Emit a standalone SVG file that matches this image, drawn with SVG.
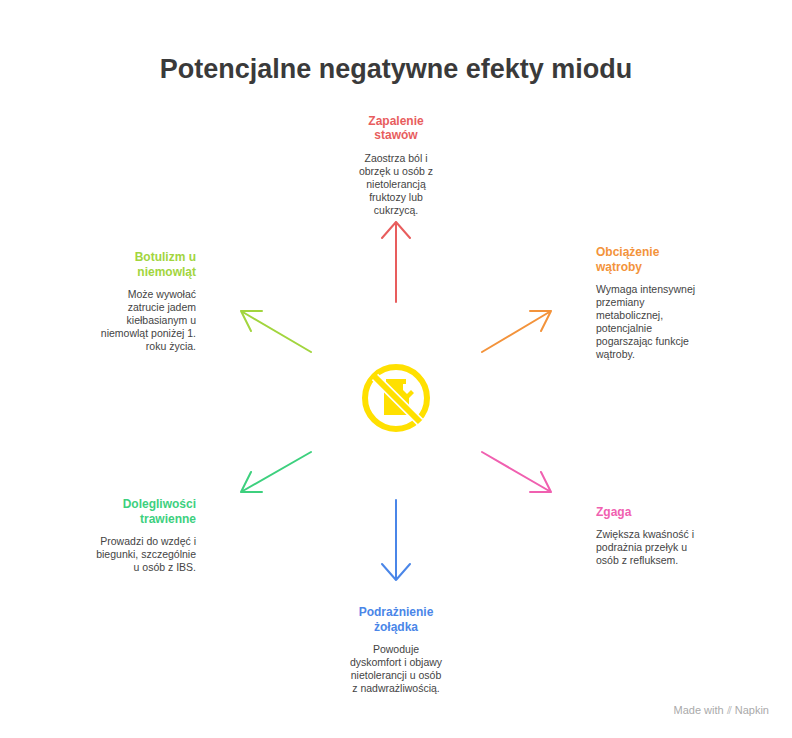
<svg xmlns="http://www.w3.org/2000/svg" width="792" height="738" viewBox="0 0 792 738">
<style>
text{font-family:"Liberation Sans",Arial,sans-serif}
.t{font-size:27px;font-weight:bold;fill:#3a3a3a}
.h{font-size:12px;font-weight:bold}
.b{font-size:10.5px;fill:#444}
.c{text-anchor:middle}.r{text-anchor:end}
.a{fill:none;stroke-width:2;stroke-linecap:round;stroke-linejoin:round}
</style>
<rect width="792" height="738" fill="#fff"/>
<text class="t c" x="396" y="78">Potencjalne negatywne efekty miodu</text>
<g id="connectors">
<g class="a" stroke="#e85d5d"><path d="M396 302V222M382 238L396 222L410 238"/></g>
<g class="a" stroke="#f3933b"><path d="M482 352L551 311M530 311L551 311L541 331"/></g>
<g class="a" stroke="#f060b0"><path d="M482 452L551 492M541 472L551 492L530 492"/></g>
<g class="a" stroke="#4a86e8"><path d="M396 500V580M382 564L396 580L410 564"/></g>
<g class="a" stroke="#3dd07e"><path d="M311 452L241 492M251 472L241 492L262 492"/></g>
<g class="a" stroke="#a2d53e"><path d="M311 352L241 311M262 311L241 311L251 331"/></g>
</g>
<g id="icon">
<circle cx="396" cy="398" r="31" fill="none" stroke="#ffe000" stroke-width="6"/>
<path d="M386 379h20v5h-3v6l4 4 4-4 3 3-5 5v17h-25v-26l2-5z" fill="#ffe000"/>
<path d="M375 377L420 422" stroke="#fff" stroke-width="9"/>
<path d="M373 375L420 422" stroke="#ffe000" stroke-width="6"/>
</g>
<g id="n1"><text class="h c" fill="#e85d5d" x="396" y="125">Zapalenie</text><text class="h c" fill="#e85d5d" x="396" y="139">stawów</text>
<text class="b c" x="396" y="162">Zaostrza ból i</text><text class="b c" x="396" y="175">obrzęk u osób z</text><text class="b c" x="396" y="188">nietolerancją</text><text class="b c" x="396" y="201">fruktozy lub</text><text class="b c" x="396" y="214">cukrzycą.</text></g>
<g id="n2"><text class="h" fill="#f3933b" x="596" y="256">Obciążenie</text><text class="h" fill="#f3933b" x="596" y="271">wątroby</text>
<text class="b" x="596" y="293">Wymaga intensywnej</text><text class="b" x="596" y="306">przemiany</text><text class="b" x="596" y="319">metabolicznej,</text><text class="b" x="596" y="332">potencjalnie</text><text class="b" x="596" y="345">pogarszając funkcje</text><text class="b" x="596" y="358">wątroby.</text></g>
<g id="n3"><text class="h" fill="#f060b0" x="596" y="516">Zgaga</text>
<text class="b" x="596" y="538">Zwiększa kwaśność i</text><text class="b" x="596" y="551">podrażnia przełyk u</text><text class="b" x="596" y="564">osób z refluksem.</text></g>
<g id="n4"><text class="h c" fill="#4a86e8" x="396" y="616">Podrażnienie</text><text class="h c" fill="#4a86e8" x="396" y="631">żołądka</text>
<text class="b c" x="396" y="653">Powoduje</text><text class="b c" x="396" y="666">dyskomfort i objawy</text><text class="b c" x="396" y="679">nietolerancji u osób</text><text class="b c" x="396" y="692">z nadwrażliwością.</text></g>
<g id="n5"><text class="h r" fill="#3dd07e" x="196" y="508">Dolegliwości</text><text class="h r" fill="#3dd07e" x="196" y="523">trawienne</text>
<text class="b r" x="196" y="545">Prowadzi do wzdęć i</text><text class="b r" x="196" y="558">biegunki, szczególnie</text><text class="b r" x="196" y="571">u osób z IBS.</text></g>
<g id="n6"><text class="h r" fill="#a2d53e" x="196" y="261">Botulizm u</text><text class="h r" fill="#a2d53e" x="196" y="276">niemowląt</text>
<text class="b r" x="196" y="298">Może wywołać</text><text class="b r" x="196" y="311">zatrucie jadem</text><text class="b r" x="196" y="324">kiełbasianym u</text><text class="b r" x="196" y="337">niemowląt poniżej 1.</text><text class="b r" x="196" y="350">roku życia.</text></g>
<text x="769" y="714" font-size="11" fill="#aaa" text-anchor="end">Made with ⫽ Napkin</text>
</svg>
